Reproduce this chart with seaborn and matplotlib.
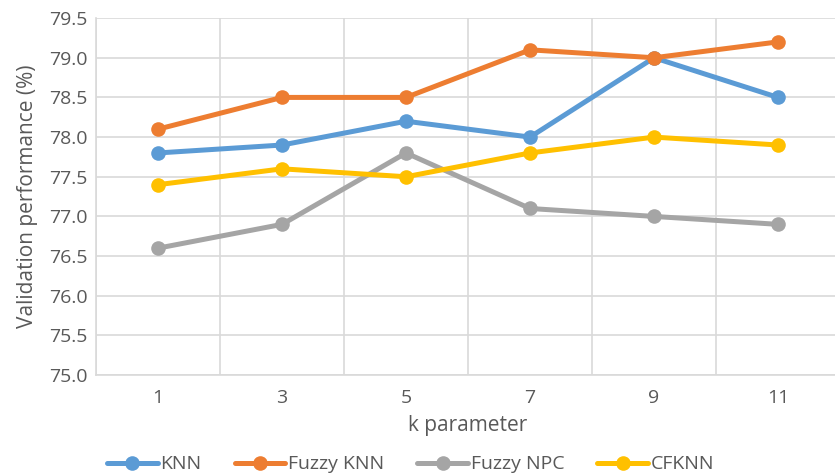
import matplotlib
matplotlib.use("Agg")
import matplotlib.pyplot as plt
import seaborn as sns
import pandas as pd
import numpy as np

k_values = ["1", "3", "5", "7", "9", "11"]
knn = [77.8, 77.9, 78.2, 78.0, 79.0, 78.5]
fuzzy_knn = [78.1, 78.5, 78.5, 79.1, 79.0, 79.2]
fuzzy_npc = [76.6, 76.9, 77.8, 77.1, 77.0, 76.9]
cfknn = [77.4, 77.6, 77.5, 77.8, 78.0, 77.9]
series_names = ["KNN", "Fuzzy KNN", "Fuzzy NPC", "CFKNN"]
y_ticks = [75.0, 75.5, 76.0, 76.5, 77.0, 77.5, 78.0, 78.5, 79.0, 79.5]

colors = ["#5B9BD5", "#ED7D31", "#A5A5A5", "#FFC000"]

rows = []
for name, vals in zip(series_names, [knn, fuzzy_knn, fuzzy_npc, cfknn]):
    for i, v in enumerate(vals):
        rows.append({"pos": i, "k": k_values[i], "value": v, "method": name})
df = pd.DataFrame(rows)

sns.set_style("white")
plt.rcParams["font.family"] = ["Open Sans", "DejaVu Sans"]
text_color = "#595959"
grid_color = "#D9D9D9"

fig = plt.figure(figsize=(8.35, 4.76), dpi=100)
ax = fig.add_axes([0.115, 0.212, 0.891, 0.75])

sns.lineplot(data=df, x="pos", y="value", hue="method", palette=colors,
             hue_order=series_names, marker="o", markersize=10.5, linewidth=3.6,
             markeredgewidth=0, ax=ax, legend=True)

ax.set_xlim(-0.5, 5.5)
ax.set_ylim(75.0, 79.5)
ax.set_xticks(range(len(k_values)))
ax.set_xticklabels(k_values)
ax.set_xticks(np.arange(-0.5, 6.0, 1.0), minor=True)
ax.set_yticks(y_ticks)
ax.set_yticklabels([f"{t:.1f}" for t in y_ticks])
ax.grid(False)
ax.grid(axis="y", which="major", color=grid_color, linewidth=1.2)
ax.grid(axis="x", which="minor", color=grid_color, linewidth=1.2)
ax.set_axisbelow(True)
for side, s in ax.spines.items():
    if side in ("left", "bottom"):
        s.set_visible(True)
        s.set_color(grid_color)
        s.set_linewidth(1.2)
    else:
        s.set_visible(False)
ax.tick_params(axis="both", which="both", length=0, labelsize=14,
               labelcolor=text_color)
ax.tick_params(axis="x", pad=10)
ax.tick_params(axis="y", pad=6)

ax.set_xlabel("k parameter", fontsize=15, color=text_color, labelpad=6)
ax.set_ylabel("Validation performance (%)", fontsize=15, color=text_color, labelpad=8)

handles, labels = ax.get_legend_handles_labels()
ax.legend(handles, labels, loc="center", bbox_to_anchor=(0.423, -0.25),
          ncol=4, frameon=False, fontsize=14, handlelength=2.6,
          handletextpad=0.15, columnspacing=1.7, labelcolor=text_color)

fig.savefig("out.png", dpi=100)
